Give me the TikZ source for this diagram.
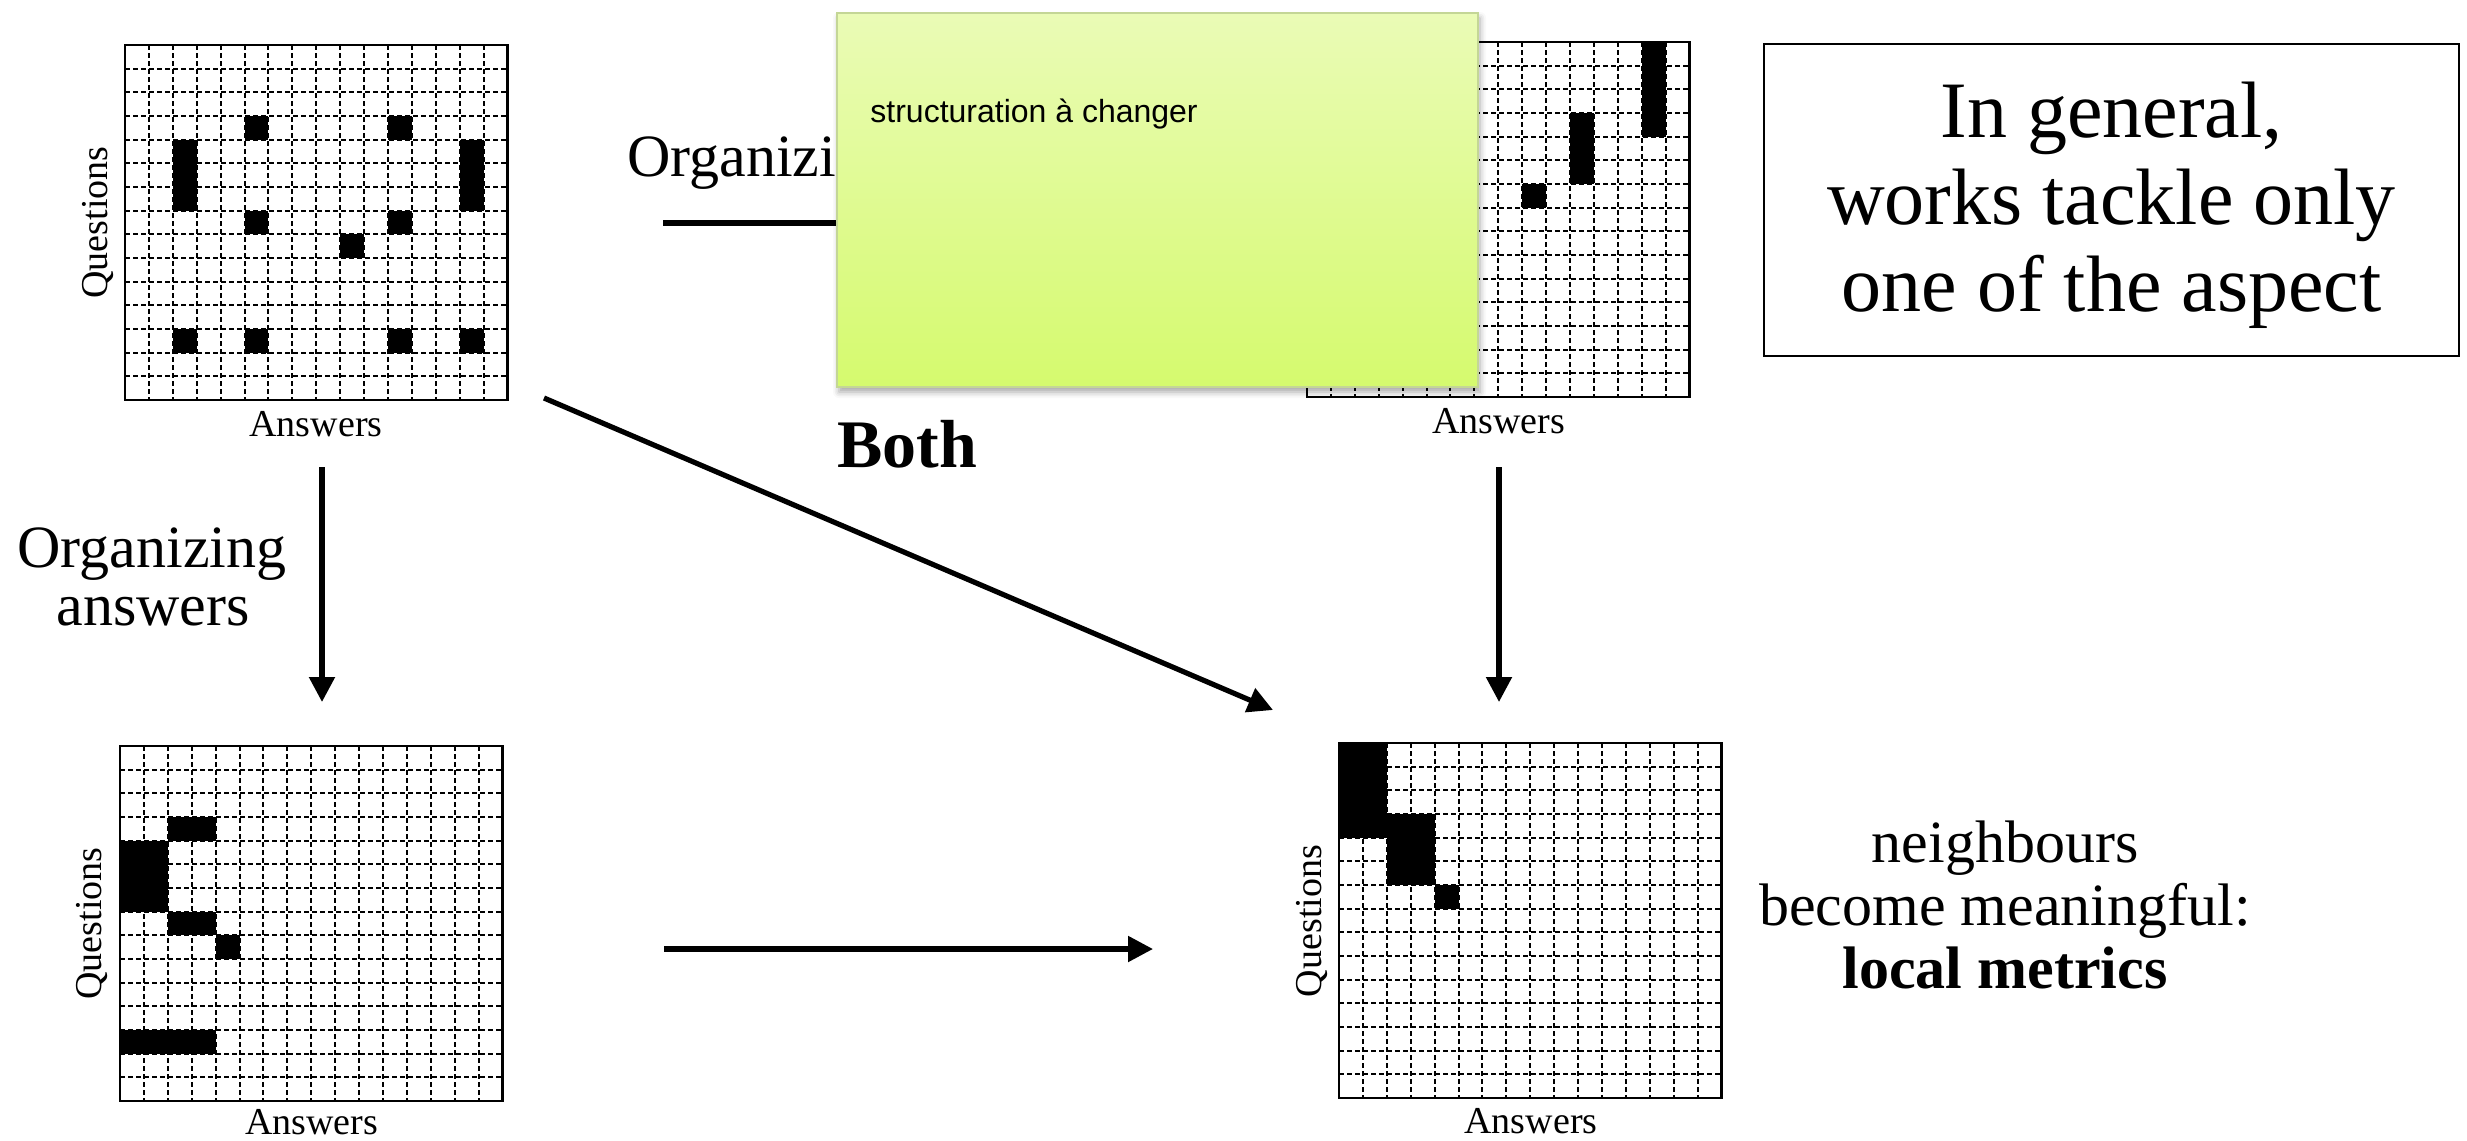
\documentclass[tikz,border=0pt]{standalone}
\usepackage{fontspec}
\setmainfont{Liberation Serif}
\newfontfamily\stickyfont{Liberation Sans}
\usetikzlibrary{arrows.meta,shadows.blur}
\definecolor{stickytop}{RGB}{234,251,182}
\definecolor{stickybot}{RGB}{213,250,110}
\definecolor{stickyedge}{RGB}{196,214,150}
\tikzset{
  gridline/.style={line width=1pt, dash pattern=on 2.6pt off 1.4pt},
  gridframe/.style={draw, line width=1.3pt, inner sep=0pt, outer sep=0pt,
    minimum width=191.2pt, minimum height=177.5pt},
  axlabel/.style={inner sep=0pt, font=\fontsize{19}{22}\selectfont},
  lbl/.style={inner sep=0pt, font=\fontsize{30}{34}\selectfont},
  boldlbl/.style={inner sep=0pt, font=\fontsize{30}{34}\selectfont\bfseries},
  arr/.style={line width=2.6pt, -{Triangle[width=12.5pt,length=12.5pt]}},
  sticky/.style={inner sep=0pt, minimum width=320.5pt, minimum height=187pt,
    top color=stickytop, bottom color=stickybot, draw=stickyedge, line width=0.6pt,
    blur shadow={shadow xshift=1pt, shadow yshift=-2.5pt, shadow blur radius=3pt, shadow opacity=35}},
}
\newcommand{\qagrid}[4]{%
  \begin{scope}[shift={(#2,#3)}]
    \foreach \ii in {1,...,15} \draw[gridline] ({\ii*23.9},0) -- ({\ii*23.9},355);
    \foreach \jj in {1,...,14} \draw[gridline] (0,{\jj*23.667}) -- (382.4,{\jj*23.667});
    \foreach \cc/\rr/\ww/\hh in {#4}
      \fill ({\cc*23.9},{\rr*23.667}) rectangle ++({\ww*23.9},{\hh*23.667});
    \node[gridframe] (#1) at (191.2,177.5) {};
  \end{scope}}
\begin{document}
\begin{tikzpicture}[x=0.5pt,y=-0.5pt]
\useasboundingbox (0,0) rectangle (2467,1140);

% grids
\qagrid{g1}{125}{45}{2/4/1/3, 14/4/1/3, 5/3/1/1, 11/3/1/1, 5/7/1/1, 11/7/1/1, 9/8/1/1, 2/12/1/1, 5/12/1/1, 11/12/1/1, 14/12/1/1}
\qagrid{g2}{1307}{42}{14/0/1/4, 11/3/1/3, 9/6/1/1}
\qagrid{g3}{120}{746}{0/4/2/3, 2/3/2/1, 2/7/2/1, 4/8/1/1, 0/12/4/1}
\qagrid{g4}{1339}{743}{0/0/2/4, 2/3/2/3, 4/6/1/1}

% axis labels
\node[axlabel, anchor=base] (g1a) at (316,436) {Answers};
\node[axlabel, anchor=base, rotate=90] (g1q) at (107,222.5) {Questions};
\node[axlabel, anchor=base] (g2a) at (1498.5,433) {Answers};
\node[axlabel, anchor=base] (g3a) at (311.5,1134) {Answers};
\node[axlabel, anchor=base, rotate=90] (g3q) at (101,923.5) {Questions};
\node[axlabel, anchor=base] (g4a) at (1531,1133) {Answers};
\node[axlabel, anchor=base, rotate=90] (g4q) at (1321,921) {Questions};

% arrows
\coordinate (a1s) at (663,223);  \coordinate (a1e) at (1180,223);
\coordinate (a2s) at (322,467);  \coordinate (a2e) at (322,702);
\coordinate (a3s) at (1499,467); \coordinate (a3e) at (1499,702);
\coordinate (a4s) at (544,398);  \coordinate (a4e) at (1273,710);
\coordinate (a5s) at (664,949);  \coordinate (a5e) at (1153,949);
\draw[arr] (a1s) -- (a1e);
\draw[arr] (a2s) -- (a2e);
\draw[arr] (a3s) -- (a3e);
\draw[arr] (a4s) -- (a4e);
\draw[arr] (a5s) -- (a5e);

% labels
\node[lbl, anchor=base west] (oq) at (627,176) {Organizing questions};
\node[lbl, anchor=base] (oa1) at (152,567) {Organizing};
\node[lbl, anchor=base] (oa2) at (153,625) {answers};
\node[inner sep=0pt, font=\fontsize{34}{40}\selectfont\bfseries, anchor=base west] (both) at (837,467) {Both};
\node[lbl, anchor=base] (nb1) at (2005,862) {neighbours};
\node[lbl, anchor=base] (nb2) at (2005,925) {become meaningful:};
\node[boldlbl, anchor=base] (nb3) at (2005,988) {local metrics};

% box
\node[draw, line width=1.2pt, minimum width=347.5pt, minimum height=156pt, inner sep=0pt] (genbox) at (2111.5,200) {};
\node[align=center, inner sep=0pt, font=\fontsize{40}{43.5}\selectfont] (gentext) at (2111.5,205.4) {In general,\\works tackle only\\one of the aspect};

% sticky note
\node[sticky] (note) at (1157.5,200) {};
\node[anchor=base west, inner sep=0pt, font=\stickyfont\fontsize{16}{19}\selectfont] (notetext) at (870,122) {structuration à changer};
\end{tikzpicture}
\end{document}
